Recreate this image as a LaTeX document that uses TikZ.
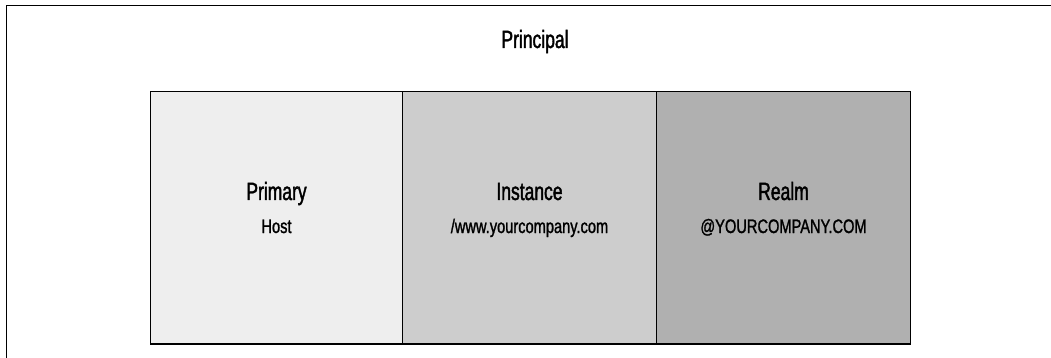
\documentclass[tikz,border=0pt]{standalone}
\usepackage{fontspec}
\setmainfont{Liberation Sans}[FakeStretch=0.72]
\newfontfamily\bigfont{Liberation Sans}[FakeStretch=0.70,FakeBold=1.6]
\newfontfamily\smallfont{Liberation Sans}[FakeStretch=0.75,FakeBold=1.3]
\definecolor{boxA}{HTML}{EEEEEE}
\definecolor{boxB}{HTML}{CDCDCD}
\definecolor{boxC}{HTML}{B0B0B0}
\definecolor{shade}{HTML}{5E5E5E}
\begin{document}
\begin{tikzpicture}[x=1pt,y=-1pt,
  partbox/.style={draw=black, line width=1pt, inner sep=0pt, anchor=north west,
    minimum width=253pt, minimum height=252pt},
  bigtext/.style={font=\bigfont\fontsize{25}{30}\selectfont, anchor=base, inner sep=0pt},
  smalltext/.style={font=\smallfont\fontsize{19.5}{23}\selectfont, anchor=base, inner sep=0pt}]
\useasboundingbox (0,0) rectangle (1051,358);
\fill[white] (0,0) rectangle (1051,358);
\draw[line width=1.8pt] (6.5,358) -- (6.5,5.5) -- (1051,5.5);
\node[bigtext] (principal) at (535,48) {Principal};
\node[partbox, fill=boxA, minimum width=252pt] (primarybox) at (150,91) {};
\node[partbox, fill=boxB, minimum width=254pt] (instancebox) at (402,91) {};
\node[partbox, fill=boxC, minimum width=254pt] (realmbox) at (656,91) {};
\draw[shade, line width=1.3pt] (primarybox.south west) -- (realmbox.south east);
\node[bigtext] (primary) at (primarybox.center |- 0,200) {Primary};
\node[smalltext] (host) at (primarybox.center |- 0,233) {Host};
\node[bigtext] (instance) at (instancebox.center |- 0,200) {Instance};
\node[smalltext] (instval) at (instancebox.center |- 0,233) {/www.yourcompany.com};
\node[bigtext] (realm) at (realmbox.center |- 0,200) {Realm};
\node[smalltext] (realmval) at (realmbox.center |- 0,233) {@YOURCOMPANY.COM};
\end{tikzpicture}
\end{document}
